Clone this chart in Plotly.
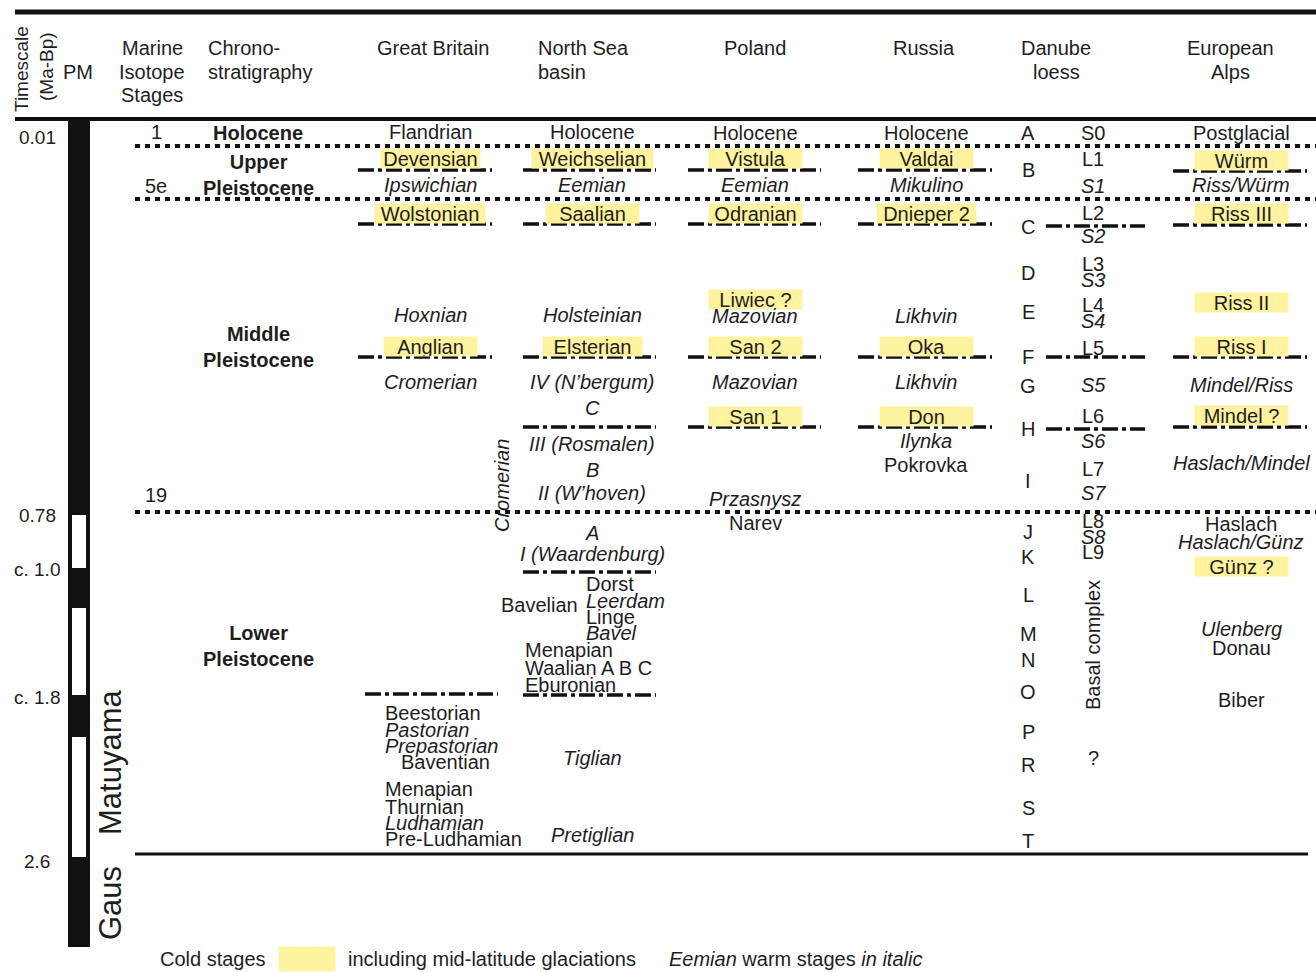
import plotly.graph_objects as go

# ------------------------------------------------------------------ data
# levels are positions on the (downward) chart time axis
timescale_labels = ["0.01", "0.78", "c. 1.0", "c. 1.8", "2.6"]
timescale_levels = [137, 515, 569, 697, 861]

polarity_top, polarity_bottom = 119, 947
normal_tops = [515, 608, 737]
normal_bottoms = [568, 695, 857]
chron_names = ["Matuyama", "Gaus"]
chron_levels = [763, 903]

mis_labels = ["1", "5e", "19"]
mis_levels = [132, 186, 495]

chrono_labels = ["Holocene", "Upper<br>Pleistocene", "Middle<br>Pleistocene", "Lower<br>Pleistocene"]
chrono_levels = [133, 175, 347, 646]

main_boundaries = [146, 199, 512]
base_boundary = 854

# kinds: c = cold stage (mid-latitude glaciation), w = warm stage, n = other
gb_names = ["Flandrian", "Devensian", "Ipswichian", "Wolstonian", "Hoxnian", "Anglian", "Cromerian"]
gb_levels = [132, 158, 185, 213, 315, 346, 382]
gb_kinds = ["n", "c", "w", "c", "w", "c", "w"]
gb_lower_names = ["Beestorian", "Pastorian", "Prepastorian", "Baventian",
                  "Menapian", "Thurnian", "Ludhamian", "Pre-Ludhamian"]
gb_lower_levels = [713, 730, 746, 762, 789, 807, 823, 839]
gb_lower_kinds = ["n", "w", "w", "n", "n", "n", "w", "n"]
gb_boundaries = [170, 224, 357]
gb_lower_boundary = 694

ns_names = ["Holocene", "Weichselian", "Eemian", "Saalian", "Holsteinian", "Elsterian",
            "IV (N’bergum)", "C", "III (Rosmalen)", "B", "II (W’hoven)", "A",
            "I (Waardenburg)", "Tiglian", "Pretiglian"]
ns_levels = [132, 158, 185, 213, 315, 346, 382, 408, 444, 470, 493, 533, 554, 758, 835]
ns_kinds = ["n", "c", "w", "c", "w", "c", "w", "w", "w", "w", "w", "w", "w", "w", "w"]
ns_bavelian_names = ["Dorst", "Leerdam", "Linge", "Bavel"]
ns_bavelian_levels = [584, 601, 617, 633]
ns_bavelian_kinds = ["n", "w", "n", "w"]
ns_bavelian_level = 605
ns_early_names = ["Menapian", "Waalian A B C", "Eburonian"]
ns_early_levels = [650, 668, 685]
ns_cromerian_level = 486
ns_boundaries = [170, 224, 357, 427, 572, 695]

pl_names = ["Holocene", "Vistula", "Eemian", "Odranian", "Liwiec ?", "Mazovian", "San 2",
            "Mazovian", "San 1", "Przasnysz", "Narev"]
pl_levels = [133, 158, 185, 213, 299, 316, 346, 382, 416, 499, 523]
pl_kinds = ["n", "c", "w", "c", "c", "w", "c", "w", "c", "w", "n"]
pl_boundaries = [170, 224, 357, 427]

ru_names = ["Holocene", "Valdai", "Mikulino", "Dnieper 2", "Likhvin", "Oka", "Likhvin",
            "Don", "Ilynka", "Pokrovka"]
ru_levels = [133, 158, 185, 213, 316, 346, 382, 416, 441, 465]
ru_kinds = ["n", "c", "w", "c", "w", "c", "w", "c", "w", "n"]
ru_boundaries = [170, 224, 357, 427]

dl_zones = list("ABCDEFGHIJKLMNOPRST")
dl_zone_levels = [133, 170, 227, 273, 312, 357, 386, 429, 481, 532, 557, 595, 634, 660,
                  692, 732, 765, 808, 841]
dl_units = ["S0", "L1", "S1", "L2", "S2", "L3", "S3", "L4", "S4", "L5", "S5", "L6", "S6",
            "L7", "S7", "L8", "S8", "L9", "?"]
dl_unit_levels = [133, 159, 186, 213, 236, 264, 280, 305, 321, 348, 385, 416, 441, 469,
                  493, 521, 537, 552, 758]
dl_unit_kinds = ["n", "n", "w", "n", "w", "n", "w", "n", "w", "n", "w", "n", "w", "n",
                 "w", "n", "w", "n", "n"]
dl_basal_level = 645
dl_boundaries = [226, 357, 429]

al_names = ["Postglacial", "Würm", "Riss/Würm", "Riss III", "Riss II", "Riss I",
            "Mindel/Riss", "Mindel ?", "Haslach/Mindel", "Haslach", "Haslach/Günz",
            "Günz ?", "Ulenberg", "Donau", "Biber"]
al_levels = [133, 160, 185, 213, 302, 346, 385, 415, 463, 524, 542, 566, 629, 648, 700]
al_kinds = ["n", "c", "w", "c", "c", "c", "w", "c", "w", "n", "w", "c", "w", "n", "n"]
al_boundaries = [171, 225, 357, 427]

# ------------------------------------------------------------------ style / layout
W, H = 1316, 972
FONT = "Liberation Sans, Arial, sans-serif"
INK = "#1e1e1e"
COLD = "#FFF3A0"
FS = 20
DOTTED = dict(color="#111", width=4, dash="5px,5px")
DASHDOT = dict(color="#111", width=3.5, dash="16px,4px,4px,4px")

annotations = []
shapes = []


def label(x, y, text, size=FS, anchor="center", angle=0, bg=None, w=None, h=None):
    d = dict(x=x, y=y, xref="x", yref="y", text=text, showarrow=False,
             xanchor=anchor, yanchor="middle", textangle=angle,
             font=dict(family=FONT, size=size, color=INK))
    if bg:
        d.update(bgcolor=bg, width=w, height=h, borderpad=0)
    annotations.append(d)


def stage(x, y, name, kind, anchor="center"):
    if kind == "w":
        label(x, y, "<i>" + name + "</i>", anchor=anchor)
    elif kind == "c":
        label(x, y, name, anchor=anchor, bg=COLD, w=max(93, 11 * len(name)), h=19)
    else:
        label(x, y, name, anchor=anchor)


def hline(y, x0, x1, line):
    shapes.append(dict(type="line", xref="x", yref="y", x0=x0, x1=x1, y0=y, y1=y,
                       line=line, layer="above"))


# frame lines
hline(12, 15, W, dict(color="#111", width=5))
hline(119, 15, W, dict(color="#111", width=4))
for b in main_boundaries:
    hline(b, 135, W, DOTTED)
hline(base_boundary, 135, 1308, dict(color="#111", width=3))

# headers
label(21, 69, "Timescale", size=19, angle=-90)
label(46, 67, "(Ma-Bp)", size=19, angle=-90)
label(78, 72, "PM")
for i, t in enumerate(["Marine", "Isotope", "Stages"]):
    label(152, 48 + 23.5 * i, t)
for i, t in enumerate(["Chrono-", "stratigraphy"]):
    label(206, 48 + 23.5 * i, t, anchor="left")
label(433, 48, "Great Britain")
for i, t in enumerate(["North Sea", "basin"]):
    label(536, 48 + 23.5 * i, t, anchor="left")
label(755, 48, "Poland")
label(924, 48, "Russia")
for i, t in enumerate(["Danube", "loess"]):
    label(1056, 48 + 23.5 * i, t)
for i, t in enumerate(["European", "Alps"]):
    label(1230, 48 + 23.5 * i, t)

# timescale
for t, y in zip(timescale_labels, timescale_levels):
    label(37, y, t, size=19)

# MIS and chronostratigraphy
for t, y in zip(mis_labels, mis_levels):
    label(156, y, t)
for t, y in zip(chrono_labels, chrono_levels):
    label(258, y, "<b>" + t + "</b>")

# palaeomagnetism chrons
for t, y in zip(chron_names, chron_levels):
    label(110, y, t, size=31, angle=-90)

# Great Britain
for t, y, k in zip(gb_names, gb_levels, gb_kinds):
    stage(430, y, t, k)
for t, y, k in zip(gb_lower_names, gb_lower_levels, gb_lower_kinds):
    stage(399 if t == "Baventian" else 383, y, t, k, anchor="left")
for b in gb_boundaries:
    hline(b, 358, 492, DASHDOT)
hline(gb_lower_boundary, 365, 498, DASHDOT)

# North Sea basin
for t, y, k in zip(ns_names, ns_levels, ns_kinds):
    stage(592, y, t, k)
for t, y, k in zip(ns_bavelian_names, ns_bavelian_levels, ns_bavelian_kinds):
    stage(584, y, t, k, anchor="left")
label(580, ns_bavelian_level, "Bavelian", anchor="right")
for t, y in zip(ns_early_names, ns_early_levels):
    label(523, y, t, anchor="left")
label(502, ns_cromerian_level, "<i>Cromerian</i>", angle=-90)
for b in ns_boundaries:
    hline(b, 523, 656, DASHDOT)

# Poland
for t, y, k in zip(pl_names, pl_levels, pl_kinds):
    stage(755, y, t, k)
for b in pl_boundaries:
    hline(b, 688, 821, DASHDOT)

# Russia
for t, y, k in zip(ru_names, ru_levels, ru_kinds):
    stage(926, y, t, k)
for b in ru_boundaries:
    hline(b, 858, 992, DASHDOT)

# Danube loess
for t, y in zip(dl_zones, dl_zone_levels):
    label(1028, y, t)
for t, y, k in zip(dl_units, dl_unit_levels, dl_unit_kinds):
    stage(1093, y, t, k)
label(1093, dl_basal_level, "Basal complex", angle=-90)
for b in dl_boundaries:
    hline(b, 1046, 1145, DASHDOT)

# European Alps
for t, y, k in zip(al_names, al_levels, al_kinds):
    stage(1241, y, t, k)
for b in al_boundaries:
    hline(b, 1173, 1307, DASHDOT)

# legend
label(158, 959, "Cold stages", anchor="left")
label(307, 959, "", bg=COLD, w=56, h=24)
label(346, 959, "including mid-latitude glaciations", anchor="left")
label(667, 959, "<i>Eemian</i> warm stages <i>in italic</i>", anchor="left")

# ------------------------------------------------------------------ figure
fig = go.Figure()
fig.add_trace(go.Bar(x=[79], y=[polarity_bottom - polarity_top], base=[polarity_top],
                     width=[22], marker=dict(color="#111", line=dict(width=0)),
                     hoverinfo="skip", showlegend=False))
fig.add_trace(go.Bar(x=[79] * len(normal_tops),
                     y=[b - t for t, b in zip(normal_tops, normal_bottoms)],
                     base=normal_tops, width=[14] * len(normal_tops),
                     marker=dict(color="white", line=dict(width=0)),
                     hoverinfo="skip", showlegend=False))
fig.update_layout(
    width=W, height=H, margin=dict(l=0, r=0, t=0, b=0),
    paper_bgcolor="white", plot_bgcolor="white", barmode="overlay",
    xaxis=dict(range=[0, W], visible=False, fixedrange=True),
    yaxis=dict(range=[H, 0], visible=False, fixedrange=True),
    annotations=annotations, shapes=shapes, showlegend=False,
)
fig.write_html(
    "out.html",
    config={"displayModeBar": False, "staticPlot": True},
    post_script="document.body.style.margin='0';document.body.style.overflow='hidden';",
)
